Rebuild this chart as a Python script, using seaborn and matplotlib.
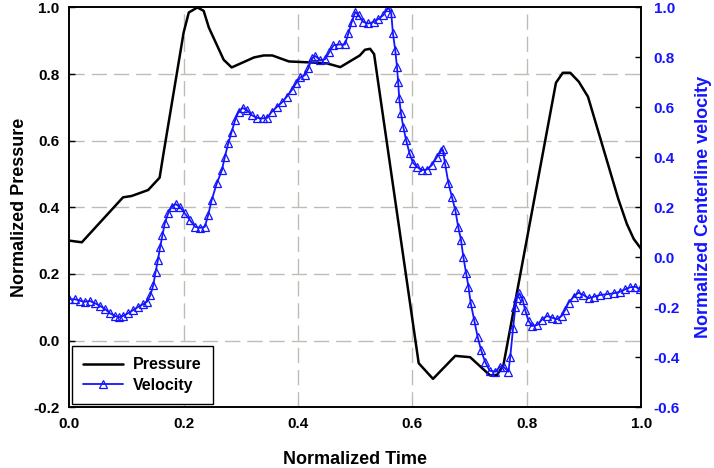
import numpy as np
import pandas as pd
import seaborn as sns
import matplotlib.pyplot as plt
from matplotlib.lines import Line2D

# pressure curve (left axis)
p_time = [0.000, 0.022, 0.094, 0.109, 0.138, 0.158, 0.165, 0.200, 0.209, 0.224,
          0.235, 0.244, 0.270, 0.284, 0.323, 0.340, 0.355, 0.384, 0.434, 0.451,
          0.474, 0.508, 0.517, 0.526, 0.533, 0.611, 0.636, 0.675, 0.701, 0.736,
          0.748, 0.759, 0.851, 0.863, 0.876, 0.891, 0.907, 0.960, 0.975, 0.987,
          1.000]
pressure = [0.300, 0.295, 0.430, 0.434, 0.452, 0.489, 0.564, 0.925, 0.985, 1.000,
            0.990, 0.940, 0.843, 0.820, 0.850, 0.856, 0.856, 0.838, 0.834, 0.832,
            0.821, 0.856, 0.873, 0.876, 0.860, -0.068, -0.115, -0.046, -0.050, -0.105,
            -0.103, -0.075, 0.774, 0.804, 0.804, 0.777, 0.732, 0.425, 0.350, 0.305,
            0.275]

# centerline velocity (right axis)
v_time = [0.000, 0.010, 0.019, 0.027, 0.036, 0.045, 0.054, 0.063, 0.071, 0.080,
          0.087, 0.094, 0.103, 0.112, 0.121, 0.129, 0.136, 0.142, 0.147, 0.151,
          0.155, 0.159, 0.163, 0.167, 0.173, 0.179, 0.186, 0.194, 0.202, 0.211,
          0.220, 0.229, 0.237, 0.243, 0.249, 0.258, 0.267, 0.272, 0.278, 0.284,
          0.290, 0.296, 0.303, 0.311, 0.319, 0.328, 0.338, 0.346, 0.354, 0.363,
          0.372, 0.380, 0.389, 0.397, 0.404, 0.412, 0.418, 0.424, 0.430, 0.439,
          0.447, 0.455, 0.462, 0.471, 0.482, 0.488, 0.494, 0.500, 0.506, 0.514,
          0.523, 0.532, 0.540, 0.549, 0.558, 0.563, 0.566, 0.570, 0.573, 0.575,
          0.577, 0.580, 0.584, 0.589, 0.595, 0.601, 0.608, 0.616, 0.625, 0.634,
          0.643, 0.650, 0.653, 0.657, 0.663, 0.669, 0.675, 0.680, 0.685, 0.689,
          0.694, 0.698, 0.702, 0.708, 0.714, 0.720, 0.727, 0.735, 0.745, 0.753,
          0.760, 0.768, 0.771, 0.776, 0.780, 0.783, 0.787, 0.793, 0.797, 0.803,
          0.809, 0.818, 0.826, 0.835, 0.844, 0.853, 0.861, 0.867, 0.873, 0.882,
          0.890, 0.899, 0.908, 0.917, 0.928, 0.940, 0.952, 0.963, 0.972, 0.981,
          0.990, 0.998]
velocity = [-0.168, -0.168, -0.174, -0.178, -0.175, -0.184, -0.195, -0.208, -0.224, -0.235,
            -0.240, -0.235, -0.224, -0.211, -0.198, -0.188, -0.178, -0.151, -0.111, -0.058,
            -0.011, 0.042, 0.089, 0.136, 0.176, 0.202, 0.213, 0.200, 0.176, 0.149,
            0.122, 0.118, 0.122, 0.170, 0.229, 0.296, 0.349, 0.402, 0.456, 0.502,
            0.549, 0.582, 0.598, 0.589, 0.569, 0.558, 0.556, 0.558, 0.582, 0.602,
            0.620, 0.642, 0.669, 0.698, 0.720, 0.729, 0.756, 0.796, 0.806, 0.789,
            0.792, 0.822, 0.849, 0.852, 0.852, 0.896, 0.942, 0.982, 0.969, 0.942,
            0.936, 0.942, 0.953, 0.969, 1.000, 0.976, 0.896, 0.829, 0.763, 0.703,
            0.636, 0.576, 0.522, 0.469, 0.416, 0.378, 0.362, 0.349, 0.351, 0.369,
            0.402, 0.426, 0.432, 0.376, 0.296, 0.242, 0.189, 0.122, 0.069, 0.002,
            -0.064, -0.118, -0.184, -0.251, -0.318, -0.371, -0.418, -0.454, -0.458, -0.438,
            -0.440, -0.458, -0.400, -0.285, -0.200, -0.164, -0.144, -0.171, -0.211, -0.254,
            -0.275, -0.271, -0.251, -0.235, -0.242, -0.248, -0.235, -0.211, -0.182, -0.158,
            -0.142, -0.151, -0.164, -0.158, -0.151, -0.148, -0.144, -0.138, -0.128, -0.120,
            -0.118, -0.128]

x_ticks = [0.0, 0.2, 0.4, 0.6, 0.8, 1.0]
p_ticks = [-0.2, 0.0, 0.2, 0.4, 0.6, 0.8, 1.0]
v_ticks = [-0.6, -0.4, -0.2, 0.0, 0.2, 0.4, 0.6, 0.8, 1.0]

p_df = pd.DataFrame({'time': p_time, 'pressure': pressure})
v_df = pd.DataFrame({'time': v_time, 'velocity': velocity})

sns.set_style('white')
plt.rcParams['font.family'] = ['Liberation Sans', 'DejaVu Sans']
plt.rcParams['font.weight'] = 'bold'
plt.rcParams['text.color'] = 'black'
plt.rcParams['axes.labelcolor'] = 'black'
plt.rcParams['xtick.color'] = 'black'
plt.rcParams['ytick.color'] = 'black'

blue = '#1414ff'

fig = plt.figure(figsize=(7.14, 4.68), dpi=100)
ax = fig.add_axes([0.097, 0.130, 0.801, 0.854])
ax2 = ax.twinx()

sns.lineplot(data=p_df, x='time', y='pressure', ax=ax, color='black',
             linewidth=1.8, sort=False, estimator=None)
sns.lineplot(data=v_df, x='time', y='velocity', ax=ax2, color=blue,
             linewidth=1.3, sort=False, estimator=None, marker='^',
             markersize=5.5, markerfacecolor='none', markeredgecolor=blue,
             markeredgewidth=0.9)

ax.set_xlim(0, 1)
ax.set_ylim(-0.2, 1.0)
ax2.set_ylim(-0.6, 1.0)
ax.set_xticks(x_ticks)
ax.set_yticks(p_ticks)
ax2.set_yticks(v_ticks)
ax.set_xticklabels([f'{t:.1f}' for t in x_ticks])
ax.set_yticklabels([f'{t:.1f}' for t in p_ticks])
ax2.set_yticklabels([f'{t:.1f}' for t in v_ticks])

# dashed grid only at inner ticks
for t in x_ticks[1:-1]:
    ax.axvline(t, color='#bdbdb4', linewidth=1.0, dashes=(11, 5), zorder=0)
for t in p_ticks[1:-1]:
    ax.axhline(t, color='#bdbdb4', linewidth=1.0, dashes=(11, 5), zorder=0)

ax.tick_params(axis='both', direction='in', length=4, width=1, labelsize=11,
               colors='black', labelcolor='black', pad=7)
ax2.tick_params(axis='y', direction='in', length=4, width=1, labelsize=11,
                colors='black', labelcolor=blue, pad=9)
for lab in ax.get_xticklabels() + ax.get_yticklabels():
    lab.set_fontweight('bold')
    lab.set_color('black')
for lab in ax2.get_yticklabels():
    lab.set_fontweight('bold')
    lab.set_color(blue)

for sp in ax.spines.values():
    sp.set_color('black')
    sp.set_linewidth(1.2)
for sp in ax2.spines.values():
    sp.set_color('black')
    sp.set_linewidth(1.2)

ax.set_xlabel('Normalized Time', fontsize=13, fontweight='bold', color='black')
ax.set_ylabel('Normalized Pressure', fontsize=13, fontweight='bold', color='black')
ax2.set_ylabel('Normalized Centerline velocity', fontsize=13,
               fontweight='bold', color=blue)
ax.xaxis.set_label_coords(0.5, -0.11)
ax.yaxis.set_label_coords(-0.072, 0.5)
ax2.yaxis.set_label_coords(1.094, 0.5)

handles = [
    Line2D([], [], color='black', linewidth=1.8),
    Line2D([], [], color=blue, linewidth=1.3, marker='^', markersize=5.5,
           markerfacecolor='none', markeredgecolor=blue, markeredgewidth=0.9),
]
leg = ax2.legend(handles, ['Pressure', 'Velocity'], loc='lower left',
                 bbox_to_anchor=(0.005, 0.008), borderaxespad=0,
                 fancybox=False, framealpha=1, edgecolor='black',
                 prop={'weight': 'bold', 'size': 11.5}, handlelength=2.5,
                 handletextpad=0.6, borderpad=0.7, labelspacing=0.35)
leg.get_frame().set_linewidth(1.0)
for txt in leg.get_texts():
    txt.set_color('black')

plt.savefig('out.png', dpi=100)
